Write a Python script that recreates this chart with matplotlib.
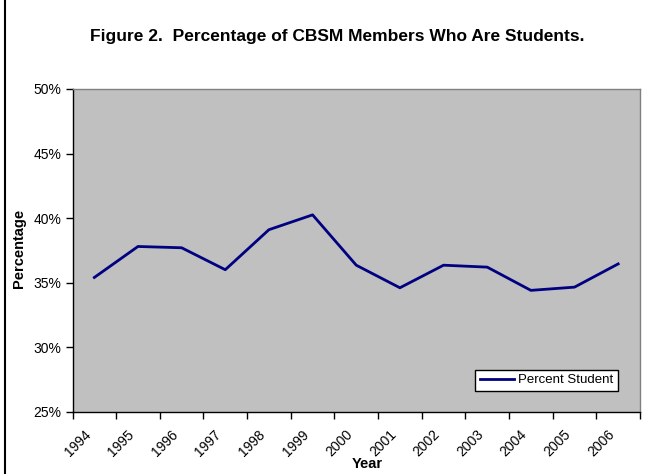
import numpy as np
import matplotlib
matplotlib.use('Agg')
from matplotlib import pyplot as plt
from matplotlib.patches import Rectangle
from matplotlib.ticker import FuncFormatter
from matplotlib.transforms import ScaledTranslation

plt.rcParams['font.family'] = ['Liberation Sans', 'DejaVu Sans']

years = ['1994', '1995', '1996', '1997', '1998', '1999', '2000',
         '2001', '2002', '2003', '2004', '2005', '2006']
percent_student = [35.4, 37.8, 37.7, 36.0, 39.1, 40.25, 36.35,
                   34.6, 36.35, 36.2, 34.4, 34.65, 36.45]
y_ticks = [25, 30, 35, 40, 45, 50]

fig = plt.figure(figsize=(6.59, 4.74), dpi=100)

# outer chart frame (cut off at right and bottom like the original)
frame = Rectangle((5 / 659, -0.2), 1.2, 1.2 + (1 - 10 / 474), transform=fig.transFigure,
                  fill=False, edgecolor='black', linewidth=1.5)
fig.patches.append(frame)

ax = fig.add_axes([72.5 / 659, 1 - 411.7 / 474, (640 - 72.5) / 659, (411.7 - 89) / 474])
ax.set_facecolor('#C0C0C0')

x = np.arange(len(years))
ax.plot(x, percent_student, color='#000080', linewidth=2, label='Percent Student')

ax.set_xlim(-0.5, len(years) - 0.5)
ax.set_ylim(y_ticks[0], y_ticks[-1])
ax.set_yticks(y_ticks)
ax.yaxis.set_major_formatter(FuncFormatter(lambda v, p: '%d%%' % v))

# category axis: tick marks between the categories, labels in the middle
ax.set_xticks(np.arange(len(years) + 1) - 0.5, minor=True)
ax.set_xticks(x)
ax.set_xticklabels(years, rotation=45, ha='right', va='center',
                   rotation_mode='anchor', fontsize=10)
ax.tick_params(axis='x', which='major', length=0, pad=15)
ax.tick_params(axis='x', which='minor', length=5, width=1, direction='out')
ax.tick_params(axis='y', length=5, width=1, direction='out', labelsize=10, pad=3)
# nudge the slanted labels a bit to the left, like excel does
shift = ScaledTranslation(-0.06, 0, fig.dpi_scale_trans)
for lab in ax.get_xticklabels():
	lab.set_transform(lab.get_transform() + shift)

for s in ['top', 'right']:
	ax.spines[s].set_color('#808080')
	ax.spines[s].set_linewidth(1)
for s in ['left', 'bottom']:
	ax.spines[s].set_color('black')
	ax.spines[s].set_linewidth(1)

ax.set_ylabel('Percentage', fontsize=10.5, fontweight='bold', va='center', ha='center')
ax.yaxis.set_label_coords(-0.0943, 0.507)
ax.set_xlabel('Year', fontsize=10.5, fontweight='bold', va='center', ha='center')
ax.xaxis.set_label_coords(0.519, -0.162)

fig.text(337 / 659, 1 - 37 / 474, 'Figure 2.  Percentage of CBSM Members Who Are Students.',
         ha='center', va='center', fontsize=12.5, fontweight='bold')

leg = ax.legend(loc='lower right', bbox_to_anchor=(0.961, 0.064), borderaxespad=0,
                fontsize=9.5, fancybox=False, framealpha=1, edgecolor='black',
                handlelength=2.6, handletextpad=0.3, borderpad=0.35)
leg.get_frame().set_linewidth(1)

fig.savefig('out.png', dpi=100)
